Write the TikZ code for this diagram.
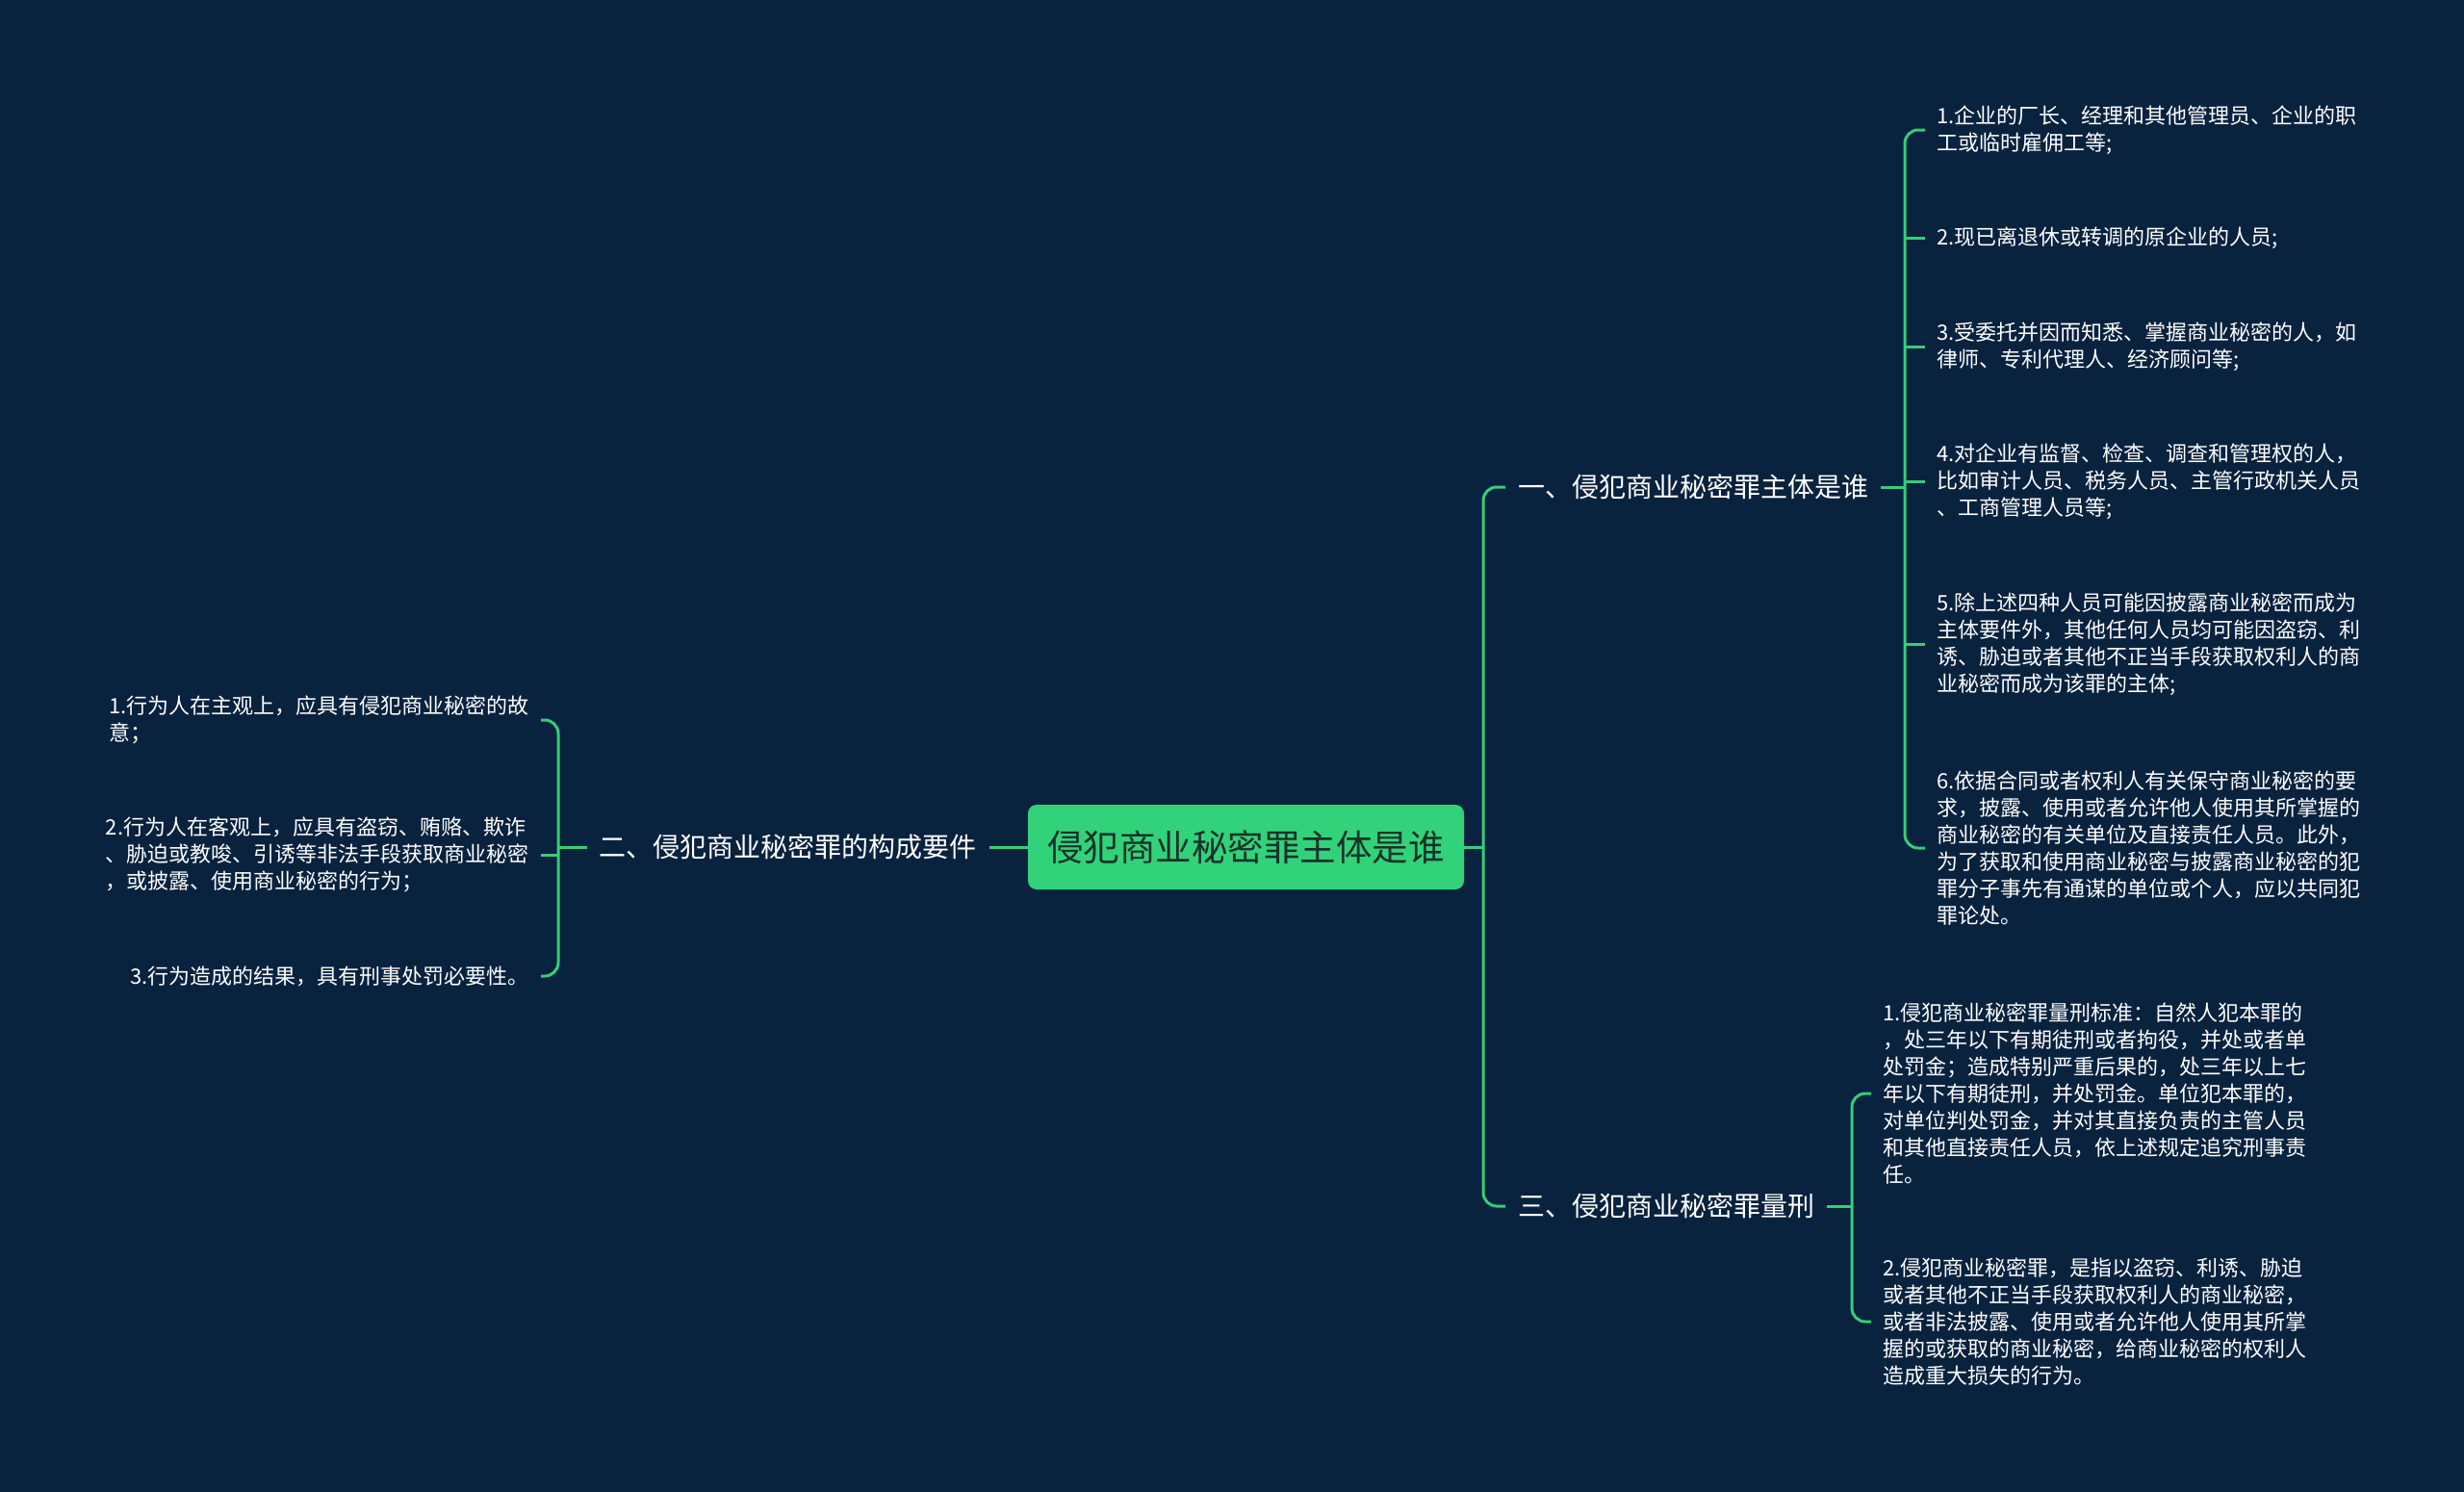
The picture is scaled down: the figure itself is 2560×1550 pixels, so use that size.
\documentclass[tikz,border=0pt]{standalone}
\usepackage{fontspec}
\newfontfamily\cjk{Noto Sans CJK SC}
\definecolor{bg}{RGB}{9,34,62}
\definecolor{lg}{RGB}{52,206,120}
\definecolor{rootfill}{RGB}{50,210,122}
\definecolor{roottext}{RGB}{24,50,40}
\begin{document}
\begin{tikzpicture}[x=1pt,y=-1pt,
 conn/.style={draw=lg,line width=3pt,rounded corners=14pt},
 rootnode/.style={fill=rootfill,rounded corners=9pt,minimum width=453pt,minimum height=88pt,inner sep=0pt,text=roottext,font=\cjk\fontsize{37.5}{45}\selectfont},
 topic/.style={text=white,inner xsep=13pt,inner ysep=4pt,font=\cjk\fontsize{28}{34}\selectfont},
 leaf/.style={text=white,align=left,inner xsep=12pt,inner ysep=2pt,font=\cjk\fontsize{22}{28}\selectfont},
]
\fill[bg] (0,0) rectangle (2560,1550);
\useasboundingbox (0,0) rectangle (2560,1550);

% root
\node[rootnode] (root) at (1294.5,880) {侵犯商业秘密罪主体是谁};

% topics
\node[topic,anchor=west] (n1) at (1564,506) {一、侵犯商业秘密罪主体是谁};
\node[topic,anchor=east] (n2) at (1028,880) {二、侵犯商业秘密罪的构成要件};
\node[topic,anchor=west] (n3) at (1564,1253) {三、侵犯商业秘密罪量刑};

% group 1 leaves
\node[leaf,anchor=west] (l11) at (2000,135) {1.企业的厂长、经理和其他管理员、企业的职\\工或临时雇佣工等;};
\node[leaf,anchor=west] (l12) at (2000,247) {2.现已离退休或转调的原企业的人员;};
\node[leaf,anchor=west] (l13) at (2000,360) {3.受委托并因而知悉、掌握商业秘密的人，如\\律师、专利代理人、经济顾问等;};
\node[leaf,anchor=west] (l14) at (2000,500) {4.对企业有监督、检查、调查和管理权的人，\\比如审计人员、税务人员、主管行政机关人员\\、工商管理人员等;};
\node[leaf,anchor=west] (l15) at (2000,669) {5.除上述四种人员可能因披露商业秘密而成为\\主体要件外，其他任何人员均可能因盗窃、利\\诱、胁迫或者其他不正当手段获取权利人的商\\业秘密而成为该罪的主体;};
\node[leaf,anchor=west] (l16) at (2000,881) {6.依据合同或者权利人有关保守商业秘密的要\\求，披露、使用或者允许他人使用其所掌握的\\商业秘密的有关单位及直接责任人员。此外，\\为了获取和使用商业秘密与披露商业秘密的犯\\罪分子事先有通谋的单位或个人，应以共同犯\\罪论处。};

% group 2 leaves
\node[leaf,anchor=east] (l21) at (562,748) {1.行为人在主观上，应具有侵犯商业秘密的故\\意；};
\node[leaf,anchor=east] (l22) at (562,888) {2.行为人在客观上，应具有盗窃、贿赂、欺诈\\、胁迫或教唆、引诱等非法手段获取商业秘密\\，或披露、使用商业秘密的行为；};
\node[leaf,anchor=east] (l23) at (562,1014) {3.行为造成的结果，具有刑事处罚必要性。};

% group 3 leaves
\node[leaf,anchor=west] (l31) at (1944,1136) {1.侵犯商业秘密罪量刑标准：自然人犯本罪的\\，处三年以下有期徒刑或者拘役，并处或者单\\处罚金；造成特别严重后果的，处三年以上七\\年以下有期徒刑，并处罚金。单位犯本罪的，\\对单位判处罚金，并对其直接负责的主管人员\\和其他直接责任人员，依上述规定追究刑事责\\任。};
\node[leaf,anchor=west] (l32) at (1944,1373) {2.侵犯商业秘密罪，是指以盗窃、利诱、胁迫\\或者其他不正当手段获取权利人的商业秘密，\\或者非法披露、使用或者允许他人使用其所掌\\握的或获取的商业秘密，给商业秘密的权利人\\造成重大损失的行为。};

% junction coordinates
\coordinate (t) at (1541,880);
\coordinate (b1) at (1979,506);
\coordinate (b2) at (580,880);
\coordinate (b3) at (1924,1253);

% trunk
\draw[conn] (root.east) -- (t);
\draw[conn] (n1.west) -| (t) |- (n3.west);
\draw[conn] (root.west) -- (n2.east);

% group 1
\draw[conn] (n1.east) -- (b1);
\draw[conn] (l11.west) -| (b1) |- (l16.west);
\draw[conn] (l12.west) -- (l12.west -| b1);
\draw[conn] (l13.west) -- (l13.west -| b1);
\draw[conn] (l14.west) -- (l14.west -| b1);
\draw[conn] (l15.west) -- (l15.west -| b1);

% group 2
\draw[conn] (n2.west) -- (b2);
\draw[conn] (l21.east) -| (b2) |- (l23.east);
\draw[conn] (l22.east) -- (l22.east -| b2);

% group 3
\draw[conn] (n3.east) -- (b3);
\draw[conn] (l31.west) -| (b3) |- (l32.west);
\end{tikzpicture}
\end{document}
